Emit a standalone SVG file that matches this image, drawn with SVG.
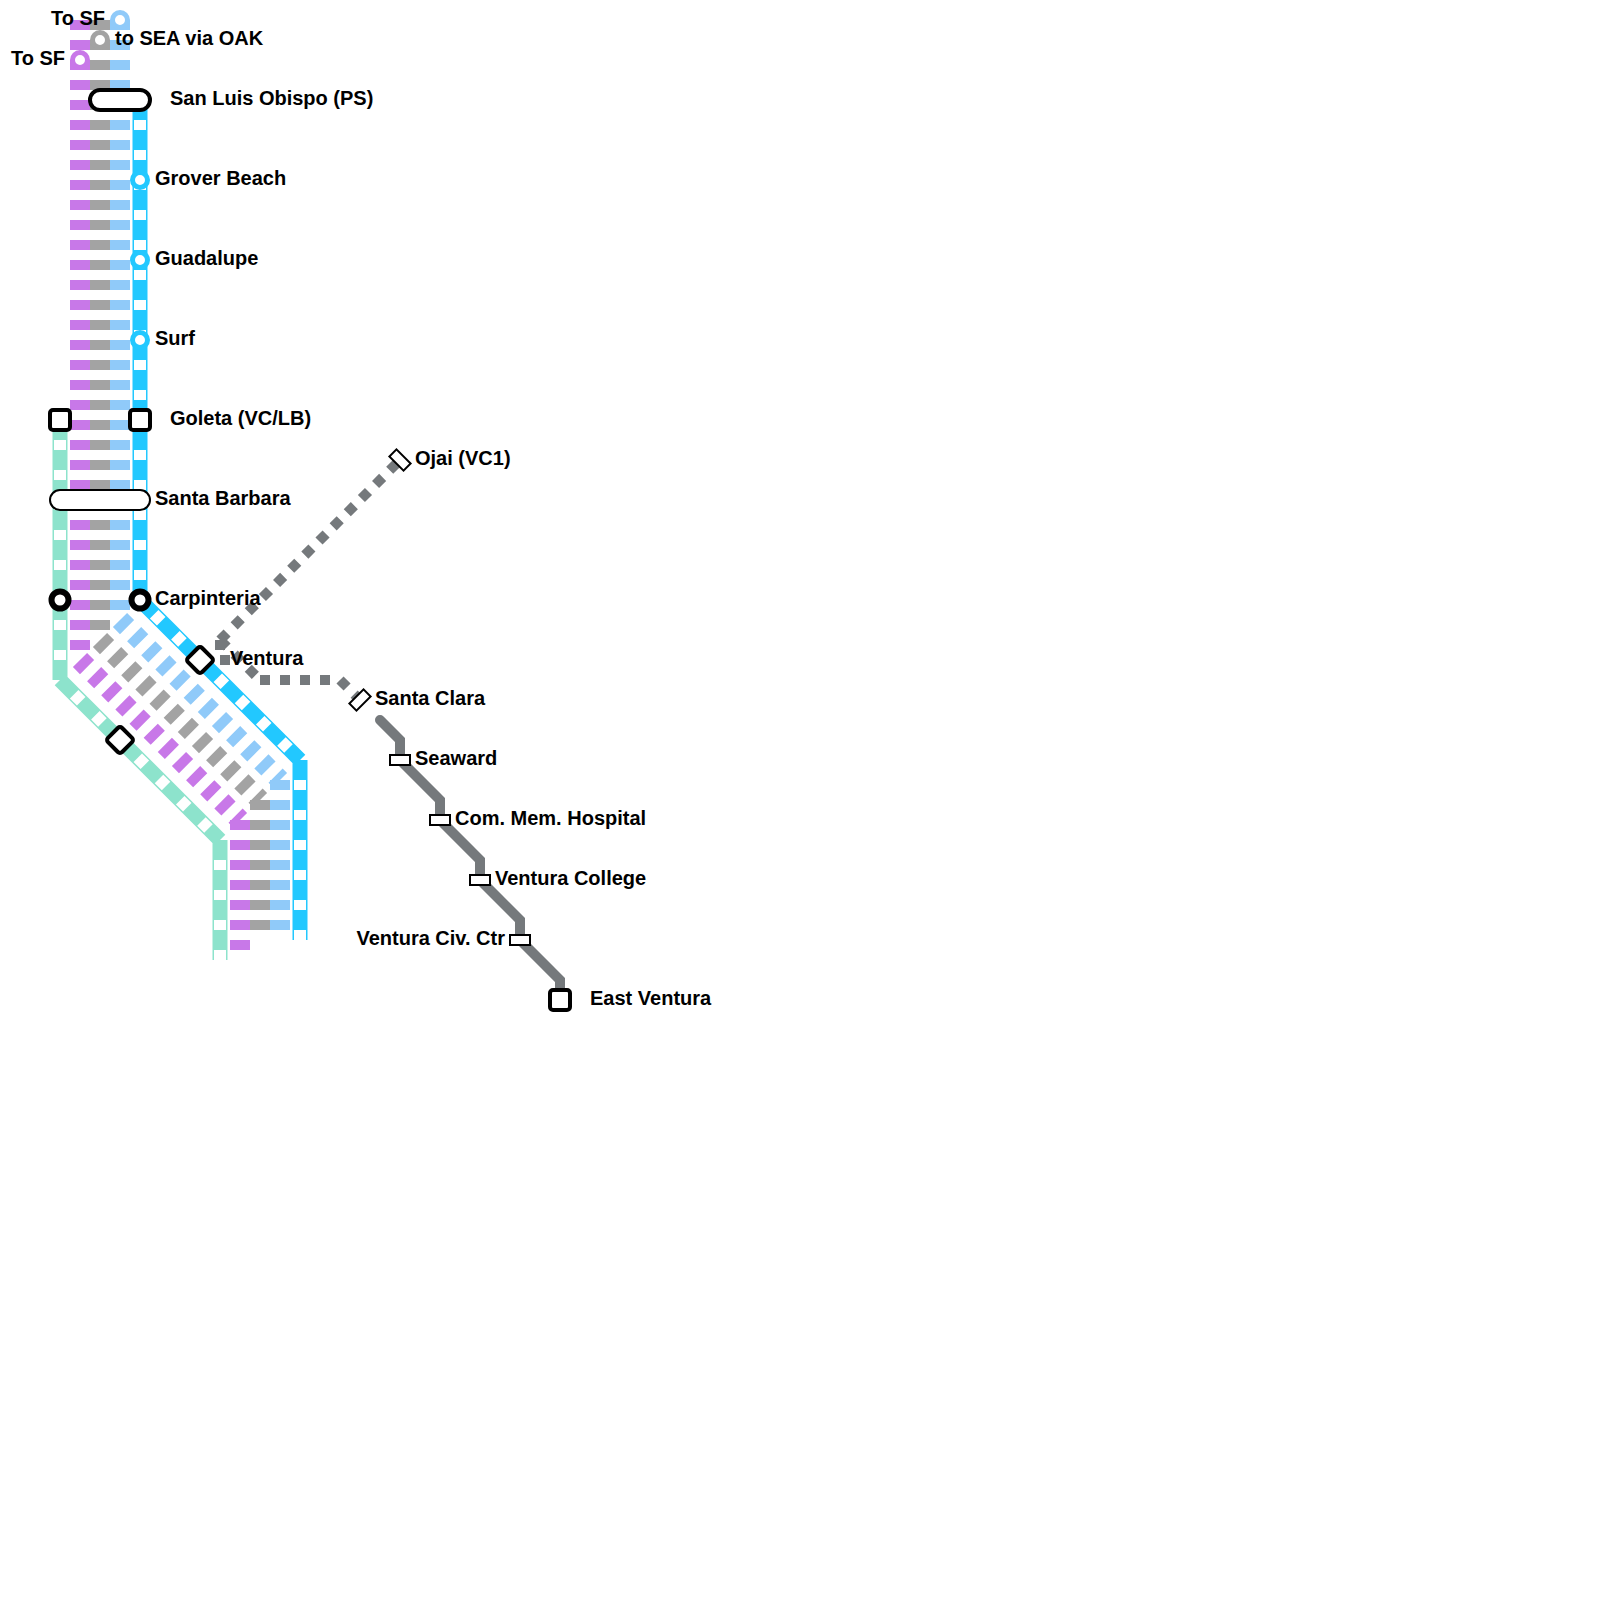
<svg xmlns="http://www.w3.org/2000/svg" width="1600" height="1600" viewBox="0 0 1600 1600">
<style>
text{font-family:"Liberation Sans",Arial,sans-serif;font-weight:700;font-size:20px;fill:#000}
.e{text-anchor:end}
.l{fill:none}
.wide{stroke-width:20;stroke-dasharray:10 10}
.p{stroke:#c878e8}.g{stroke:#a3a3a3}.b{stroke:#90caf9}
.base{stroke-width:15}
.inner{stroke:#fff;stroke-width:12;stroke-dasharray:10 20;stroke-dashoffset:-20}
.t{stroke:#8de3cc}.c{stroke:#22c8ff}
.dk{stroke:#75797c;stroke-width:10}
.dot{stroke-dasharray:10 10}
.st{fill:#fff;stroke:#000;stroke-width:4;stroke-linejoin:round}
.ring{fill:#fff;stroke-width:5}
.small{fill:#fff;stroke:#000;stroke-width:2}
</style>
<g id="connectors">
<path class="l base t" d="M60 420V680M60 680L220 840M220 840V960"/>
<path class="l inner" d="M60 420V680M60 680L220 840M220 840V960"/>
<path class="l wide p" d="M80 20V660M80 660L240 820M240 820V950"/>
<path class="l wide g" d="M100 20V640M100 640L260 800M260 800V930"/>
<path class="l wide b" d="M120 20V620M120 620L280 780M280 780V930"/>
<path class="l base c" d="M140 100V600M140 600L300 760M300 760V940"/>
<path class="l inner" d="M140 100V600M140 600L300 760M300 760V940"/>
<path class="l dk dot" d="M220 640L400 460M220 640V660M220 660H240M220 640L260 680M260 680H340M340 680L360 700"/>
<path class="l dk" stroke-linecap="round" d="M380 720L400 740V760L440 800V820L480 860V880L520 920V940L560 980V1000"/>
</g>
<g id="to-sf-blue"><circle class="ring b" cx="120" cy="20" r="7.5"/><text class="e" x="105" y="25">To SF</text></g>
<g id="to-sea"><circle class="ring g" cx="100" cy="40" r="7.5"/><text x="115" y="45">to SEA via OAK</text></g>
<g id="to-sf-purple"><circle class="ring p" cx="80" cy="60" r="7.5"/><text class="e" x="65" y="65">To SF</text></g>
<g id="san-luis-obispo"><rect class="st" x="90" y="90" width="60" height="20" rx="10"/><text x="170" y="105">San Luis Obispo (PS)</text></g>
<g id="grover-beach"><circle class="ring c" cx="140" cy="180" r="7.5"/><text x="155" y="185">Grover Beach</text></g>
<g id="guadalupe"><circle class="ring c" cx="140" cy="260" r="7.5"/><text x="155" y="265">Guadalupe</text></g>
<g id="surf"><circle class="ring c" cx="140" cy="340" r="7.5"/><text x="155" y="345">Surf</text></g>
<g id="goleta"><rect class="st" x="50" y="410" width="20" height="20" rx="3"/><rect class="st" x="130" y="410" width="20" height="20" rx="3"/><text x="170" y="425">Goleta (VC/LB)</text></g>
<g id="santa-barbara"><rect class="small" x="50" y="490" width="100" height="20" rx="10"/><text x="155" y="505">Santa Barbara</text></g>
<g id="carpinteria"><circle class="st" style="stroke-width:6" cx="60" cy="600" r="8.5"/><circle class="st" style="stroke-width:6" cx="140" cy="600" r="8.5"/><text x="155" y="605">Carpinteria</text></g>
<g id="ventura"><rect class="st" x="190" y="650" width="20" height="20" rx="3" transform="rotate(45 200 660)"/><rect class="st" x="110" y="730" width="20" height="20" rx="3" transform="rotate(45 120 740)"/><text x="230" y="665">Ventura</text></g>
<g id="ojai"><rect class="small" x="390" y="455" width="20" height="10" transform="rotate(45 400 460)"/><text x="415" y="465">Ojai (VC1)</text></g>
<g id="santa-clara"><rect class="small" x="350" y="695" width="20" height="10" transform="rotate(-45 360 700)"/><text x="375" y="705">Santa Clara</text></g>
<g id="seaward"><rect class="small" x="390" y="755" width="20" height="10"/><text x="415" y="765">Seaward</text></g>
<g id="com-mem-hospital"><rect class="small" x="430" y="815" width="20" height="10"/><text x="455" y="825">Com. Mem. Hospital</text></g>
<g id="ventura-college"><rect class="small" x="470" y="875" width="20" height="10"/><text x="495" y="885">Ventura College</text></g>
<g id="ventura-civ-ctr"><rect class="small" x="510" y="935" width="20" height="10"/><text class="e" x="505" y="945">Ventura Civ. Ctr</text></g>
<g id="east-ventura"><rect class="st" x="550" y="990" width="20" height="20" rx="3"/><text x="590" y="1005">East Ventura</text></g>
</svg>
